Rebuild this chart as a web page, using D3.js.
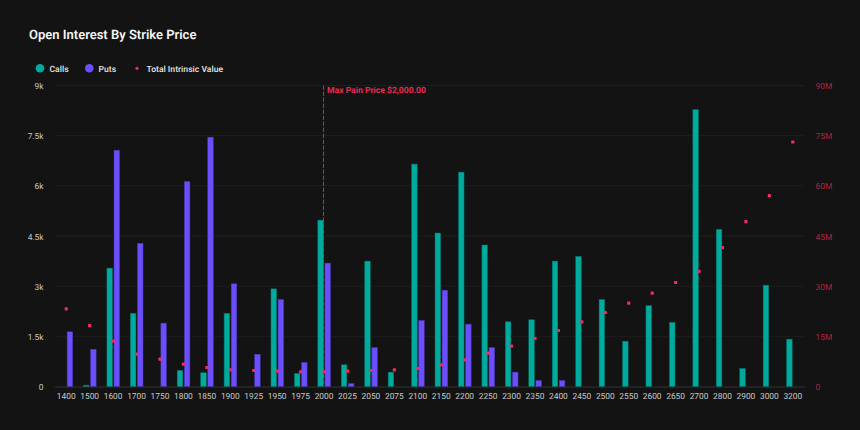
<!DOCTYPE html>
<html>
<head>
<meta charset="utf-8">
<script src="https://cdn.jsdelivr.net/npm/d3@7/dist/d3.min.js"></script>
<style>
    html, body { margin: 0; padding: 0; background: #131313; }
    svg { display: block; font-family: Roboto, sans-serif; text-rendering: geometricPrecision; }
</style>
</head>
<body>
<svg id="chart" width="860" height="430"></svg>
<script>
var strikes = ['1400', '1500', '1600', '1700', '1750', '1800', '1850', '1900', '1925', '1950', '1975', '2000', '2025', '2050', '2075', '2100', '2150', '2200', '2250', '2300', '2350', '2400', '2450', '2500', '2550', '2600', '2650', '2700', '2800', '2900', '3000', '3200'];
var calls = [0, 40, 3540, 2190, 0, 480, 410, 2190, 0, 2920, 390, 4975, 650, 3750, 430, 6650, 4590, 6410, 4230, 1935, 1995, 3750, 3890, 2600, 1355, 2420, 1915, 8280, 4700, 540, 3030, 1415];
var puts = [1635, 1115, 7065, 4280, 1895, 6130, 7455, 3070, 965, 2600, 720, 3690, 90, 1165, 0, 1975, 2880, 1865, 1165, 430, 180, 180, 0, 0, 0, 0, 0, 0, 0, 0, 0, 0];
var intrinsic = [23.2, 18.2, 13.55, 9.67, 8.17, 6.68, 5.68, 4.98, 4.78, 4.58, 4.38, 4.38, 4.58, 4.78, 4.98, 5.38, 6.48, 7.97, 9.97, 12.06, 14.35, 16.74, 19.33, 22.12, 24.9, 27.9, 31.1, 34.4, 41.55, 49.3, 57.1, 73.1];
var leftTicks = [0, 1500, 3000, 4500, 6000, 7500, 9000];
var rightTicks = [0, 15, 30, 45, 60, 75, 90];
var maxPainStrike = '2000';

var CALL_COLOR = '#00ab9e';
var PUT_COLOR = '#6c4ffc';
var RED = '#f22c5c';

var svg = d3.select('#chart');
var margin = {top: 85.5, right: 55.5, bottom: 43.5, left: 54.5};
var width = 860, height = 430;

var x = d3.scaleBand().domain(strikes).range([margin.left, width - margin.right]);
var y = d3.scaleLinear().domain([0, 9000]).range([height - margin.bottom, margin.top]);
var y2 = d3.scaleLinear().domain([0, 90]).range([height - margin.bottom, margin.top]);

function fmtLeft(d) { return d === 0 ? '0' : (d / 1000) + 'k'; }
function fmtRight(d) { return d === 0 ? '0' : d + 'M'; }

// title
svg.append('text').attr('x', 29).attr('y', 38.7)
    .attr('fill', '#f5f5f5').attr('font-size', 13).attr('font-weight', 600)
    .text('Open Interest By Strike Price');

// legend
var legendItems = [
    {label: 'Calls', color: CALL_COLOR, cx: 40, tx: 49.5, r: 4.3},
    {label: 'Puts', color: PUT_COLOR, cx: 89.3, tx: 98.5, r: 4.3},
    {label: 'Total Intrinsic Value', color: RED, cx: 137, tx: 146.5, r: 1.6}
];
var legend = svg.append('g').selectAll('g').data(legendItems).enter().append('g');
legend.append('circle')
    .attr('cx', function(d) { return d.cx; }).attr('cy', 68.3)
    .attr('r', function(d) { return d.r; }).attr('fill', function(d) { return d.color; });
legend.append('text')
    .attr('x', function(d) { return d.tx; }).attr('y', 71.7)
    .attr('fill', '#dcdcdc').attr('font-size', 8.6).attr('font-weight', 600)
    .text(function(d) { return d.label; });

// gridlines
svg.append('g').selectAll('line').data(leftTicks.slice(1)).enter().append('line')
    .attr('x1', margin.left).attr('x2', width - margin.right)
    .attr('y1', function(d) { return y(d); }).attr('y2', function(d) { return y(d); })
    .attr('stroke', '#1e1e1e').attr('stroke-width', 1);

// axes
var axisLeft = svg.append('g').attr('transform', 'translate(' + margin.left + ',0)')
    .call(d3.axisLeft(y).tickValues(leftTicks).tickFormat(fmtLeft).tickSize(0).tickPadding(11));
var axisRight = svg.append('g').attr('transform', 'translate(' + (width - margin.right) + ',0)')
    .call(d3.axisRight(y2).tickValues(rightTicks).tickFormat(fmtRight).tickSize(0).tickPadding(11));
var axisBottom = svg.append('g').attr('transform', 'translate(0,' + (height - margin.bottom) + ')')
    .call(d3.axisBottom(x).tickSize(0).tickPadding(7));

[axisLeft, axisRight].forEach(function(a) { a.select('.domain').remove(); });
axisBottom.select('.domain').attr('stroke', '#333333');
[axisLeft, axisBottom].forEach(function(a) {
    a.selectAll('text').attr('fill', '#c6c6c6').attr('font-size', 8.4).attr('font-family', 'Roboto');
});
axisRight.selectAll('text').attr('fill', '#ad2442').attr('font-size', 8.4).attr('font-family', 'Roboto');
axisLeft.selectAll('.tick text').attr('dy', '0.37em');
axisRight.selectAll('.tick text').attr('dy', '0.37em');

// bars
var barW = 5.6;
var center = function(i) { return x(strikes[i]) + x.bandwidth() / 2; };

function drawBars(values, color, dx) {
    svg.append('g').selectAll('rect').data(values).enter().append('rect')
        .attr('x', function(d, i) { return center(i) + dx; })
        .attr('y', function(d) { return y(d); })
        .attr('width', barW)
        .attr('height', function(d) { return y(0) - y(d); })
        .attr('fill', color)
        .attr('stroke', d3.color(color).darker(1.2))
        .attr('stroke-width', 0.5)
        .attr('display', function(d) { return d === 0 ? 'none' : null; });
}

drawBars(calls, CALL_COLOR, -6.2);
drawBars(puts, PUT_COLOR, 0.9);

// max pain marker
var painX = x(maxPainStrike) + x.bandwidth() / 2 - 0.5;
svg.append('line')
    .attr('x1', painX).attr('x2', painX)
    .attr('y1', y(9000)).attr('y2', y(0))
    .attr('stroke', '#c42d5a').attr('stroke-width', 1)
    .attr('stroke-dasharray', '4.5,1.5');
svg.append('text').attr('x', painX + 3.5).attr('y', 93.2)
    .attr('fill', RED).attr('font-size', 8.6).attr('font-weight', 600)
    .text('Max Pain Price $2,000.00');

// intrinsic value dots
svg.append('g').selectAll('rect').data(intrinsic).enter().append('rect')
    .attr('x', function(d, i) { return center(i) - 1.6; })
    .attr('y', function(d) { return y2(d) - 1.6; })
    .attr('width', 3.2).attr('height', 3.2).attr('rx', 0.7)
    .attr('fill', RED);
</script>
</body>
</html>
